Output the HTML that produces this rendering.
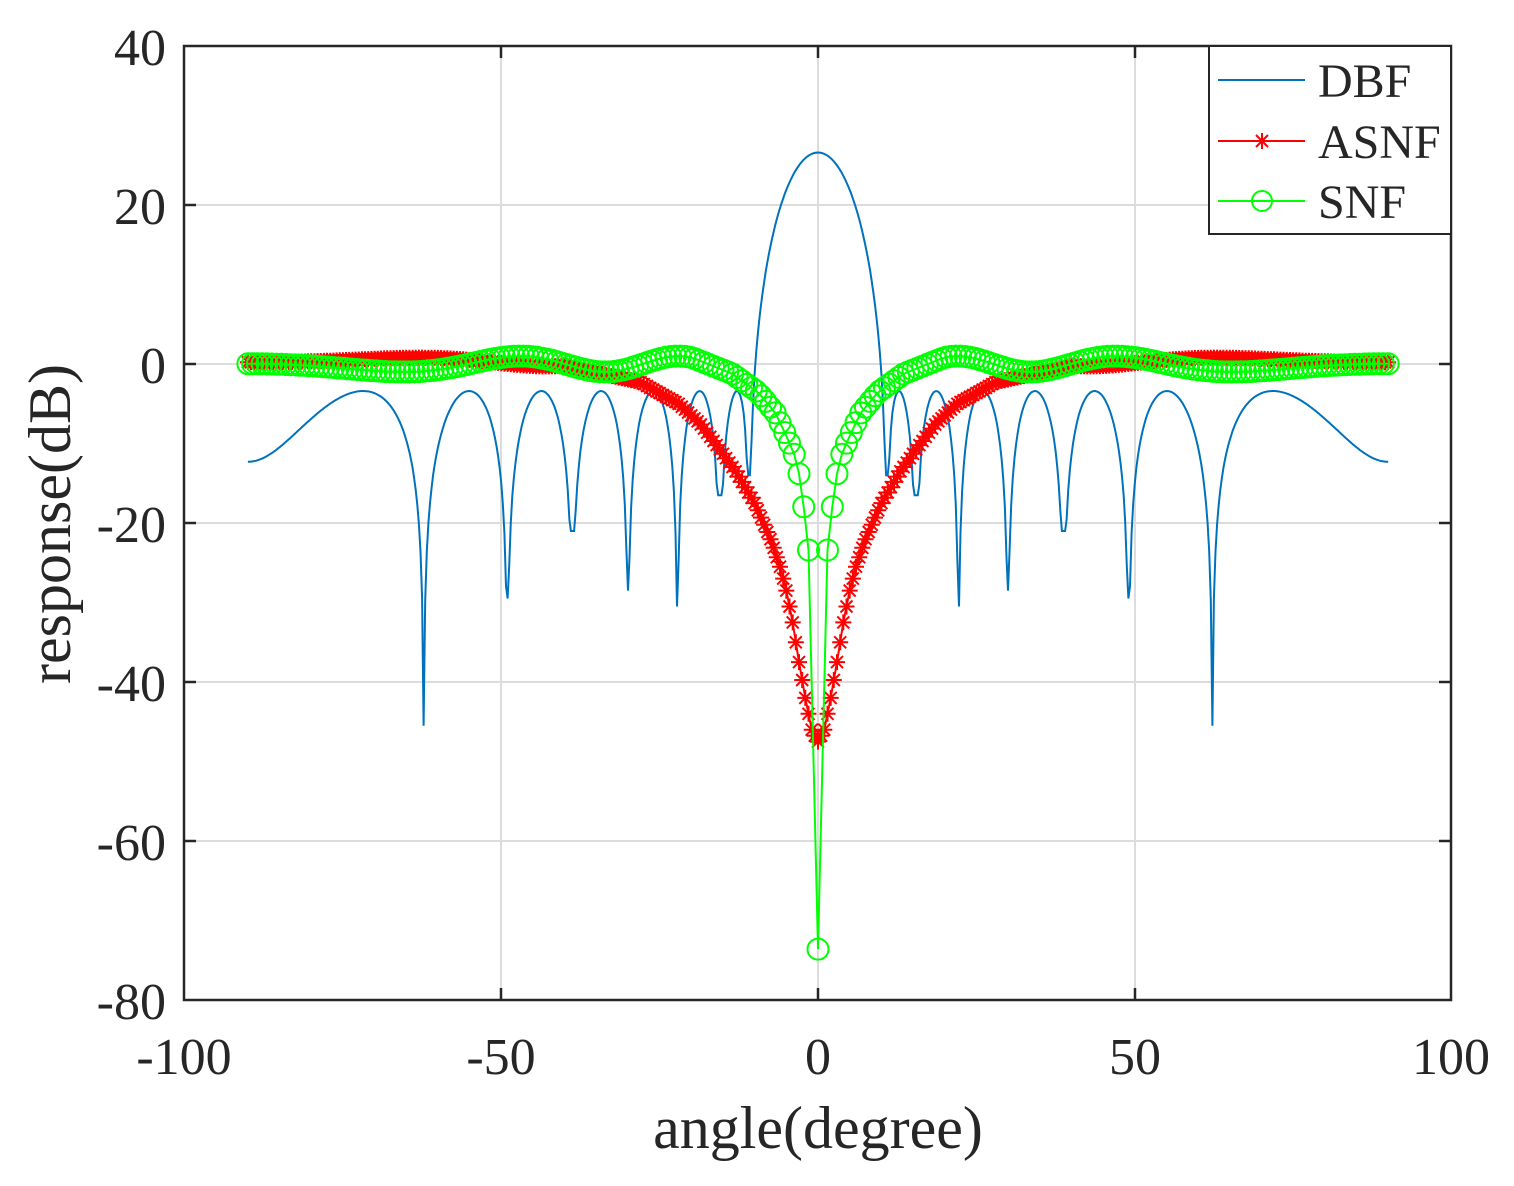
<!DOCTYPE html>
<html><head><meta charset="utf-8"><style>
body{margin:0;background:#fff}
svg text{font-family:"Liberation Serif",serif;fill:#262626}
</style></head><body>
<svg id="s" width="1514" height="1181" xmlns="http://www.w3.org/2000/svg">
<rect width="1514" height="1181" fill="#fff"/>
<g stroke="#dcdcdc" stroke-width="2">
<line x1="501" y1="46" x2="501" y2="1000"/><line x1="818" y1="46" x2="818" y2="1000"/><line x1="1135" y1="46" x2="1135" y2="1000"/>
<line x1="184" y1="205" x2="1451" y2="205"/><line x1="184" y1="364" x2="1451" y2="364"/><line x1="184" y1="523" x2="1451" y2="523"/><line x1="184" y1="682" x2="1451" y2="682"/><line x1="184" y1="841" x2="1451" y2="841"/>
</g>
<g id="plot"></g>
<rect x="184" y="46" width="1267" height="954" fill="none" stroke="#262626" stroke-width="2.5"/>
<g stroke="#262626" stroke-width="2.5">
<line x1="501" y1="1000" x2="501" y2="988"/><line x1="818" y1="1000" x2="818" y2="988"/><line x1="1135" y1="1000" x2="1135" y2="988"/>
<line x1="501" y1="46" x2="501" y2="58"/><line x1="818" y1="46" x2="818" y2="58"/><line x1="1135" y1="46" x2="1135" y2="58"/>
<line x1="184" y1="205" x2="196" y2="205"/><line x1="184" y1="364" x2="196" y2="364"/><line x1="184" y1="523" x2="196" y2="523"/><line x1="184" y1="682" x2="196" y2="682"/><line x1="184" y1="841" x2="196" y2="841"/>
<line x1="1451" y1="205" x2="1439" y2="205"/><line x1="1451" y1="364" x2="1439" y2="364"/><line x1="1451" y1="523" x2="1439" y2="523"/><line x1="1451" y1="682" x2="1439" y2="682"/><line x1="1451" y1="841" x2="1439" y2="841"/>
</g>
<g font-size="52" text-anchor="end">
<text x="166" y="65">40</text><text x="166" y="224">20</text><text x="166" y="383">0</text><text x="166" y="542">-20</text><text x="166" y="701">-40</text><text x="166" y="860">-60</text><text x="166" y="1019">-80</text>
</g>
<g font-size="52" text-anchor="middle">
<text x="184" y="1074">-100</text><text x="501" y="1074">-50</text><text x="818" y="1074">0</text><text x="1135" y="1074">50</text><text x="1451" y="1074">100</text>
</g>
<text x="818" y="1148" font-size="60" text-anchor="middle">angle(degree)</text>
<text transform="translate(70,524) rotate(-90)" font-size="60" text-anchor="middle">response(dB)</text>
<rect x="1209" y="46" width="242" height="188" fill="#fff" stroke="#262626" stroke-width="2"/>
<line x1="1218" y1="80" x2="1305" y2="80" stroke="#0072bd" stroke-width="2"/>
<line x1="1218" y1="141" x2="1305" y2="141" stroke="#ff0000" stroke-width="2"/>
<line x1="1218" y1="201" x2="1305" y2="201" stroke="#00ff00" stroke-width="2"/>
<path d="M1262,133V149M1254,141H1270M1256,135L1268,147M1268,135L1256,147" stroke="#ff0000" stroke-width="2"/>
<circle cx="1262" cy="201" r="10" fill="none" stroke="#00ff00" stroke-width="2"/>
<g font-size="48"><text x="1318" y="97">DBF</text><text x="1318" y="158">ASNF</text><text x="1318" y="218">SNF</text></g>
</svg>
<script>
(function(){
var X=function(t){return 818+t*6.335},Y=function(d){return 364-d*7.95};
function interp(tab,t){t=Math.abs(t);for(var i=1;i<tab.length;i++){if(t<=tab[i][0]){var a=tab[i-1],b=tab[i];return a[1]+(b[1]-a[1])*(t-a[0])/(b[0]-a[0]);}}return tab[tab.length-1][1];}
var R=Math.pow(10,1.5),N=16,x0=Math.cosh(Math.acosh(R)/(N-1));
function T(x){if(Math.abs(x)<=1)return Math.cos((N-1)*Math.acos(x));return Math.cosh((N-1)*Math.acosh(Math.abs(x)));}
var nulls=[10.9,15.2,21.9,29.5,38.6,48.8,62.5],depth=[-14,-16.5,-30.5,-28.5,-21,-29.5,-45.5];
function dbf(t){var u=Math.sin(t*Math.PI/180),psi=2*Math.PI*0.4925*u;var v=Math.abs(T(x0*Math.cos(psi/2)));var d=20*Math.log10(v+1e-9)-3.4;var a=Math.abs(t),bi=0,bd=1e9;for(var i=0;i<7;i++){var dd=Math.abs(a-nulls[i]);if(dd<bd){bd=dd;bi=i;}}return Math.max(d,depth[bi]);}
var p='';for(var k=-360;k<=360;k++){var t=k*0.25;var d=dbf(t);p+=(p?'L':'M')+X(t).toFixed(1)+','+Y(d).toFixed(1);}
var rt=[[0,-47.5],[1,-46],[2,-42],[3,-37.5],[4,-32.5],[5,-28.5],[6,-25.5],[7.3,-22.4],[10,-17.5],[13,-13.5],[16,-10.2],[18.6,-7.5],[22,-5],[26.5,-3],[28,-2.3]];
function rrip(t){var u=Math.abs(Math.sin(t*Math.PI/180));return 0.55*Math.cos(2*Math.PI*(u-0.89)/0.42)+0.25;}
function red(t){var a=Math.abs(t);if(a<=28)return interp(rt,a);if(a<40){var f=(a-28)/12;return -2.3*(1-f)+rrip(40)*f;}return rrip(t);}
var gt=[[0,-73.6],[1.5,-23.4],[2.3,-17.6],[3,-13.8],[3.8,-11.2],[5.2,-8.7],[6.7,-6.2],[9.4,-3.6],[13.6,-1.2],[20,0.84]];
function grip(t){var u=Math.abs(Math.sin(t*Math.PI/180));return Math.cos(2*Math.PI*(u-0.375)/0.356);}
function green(t){var a=Math.abs(t);if(a<=20)return interp(gt,a);return grip(t);}
var out='<path d="'+p+'" fill="none" stroke="#0072bd" stroke-width="2"/>';
var rp='',rm='';for(var k=-180;k<=180;k++){var t=k*0.5,x=X(t),y=Y(red(t));rp+=(rp?'L':'M')+x.toFixed(1)+','+y.toFixed(1);rm+='M'+x.toFixed(1)+','+(y-8).toFixed(1)+'v16M'+(x-8).toFixed(1)+','+y.toFixed(1)+'h16M'+(x-6).toFixed(1)+','+(y-6).toFixed(1)+'l12,12M'+(x+6).toFixed(1)+','+(y-6).toFixed(1)+'l-12,12';}
out+='<path d="'+rp+'" fill="none" stroke="#ff0000" stroke-width="2"/><path d="'+rm+'" fill="none" stroke="#ff0000" stroke-width="2"/>';
var gp='',gc='';for(var k=-120;k<=120;k++){if(k==1||k==-1)continue;var t=k*0.75,x=X(t),y=Y(green(t));gp+=(gp?'L':'M')+x.toFixed(1)+','+y.toFixed(1);gc+='<circle cx="'+x.toFixed(1)+'" cy="'+y.toFixed(1)+'" r="10.5"/>';}
out+='<path d="'+gp+'" fill="none" stroke="#00ff00" stroke-width="2"/><g fill="none" stroke="#00ff00" stroke-width="2">'+gc+'</g>';
document.getElementById('plot').innerHTML=out;
})();
</script>
</body></html>
